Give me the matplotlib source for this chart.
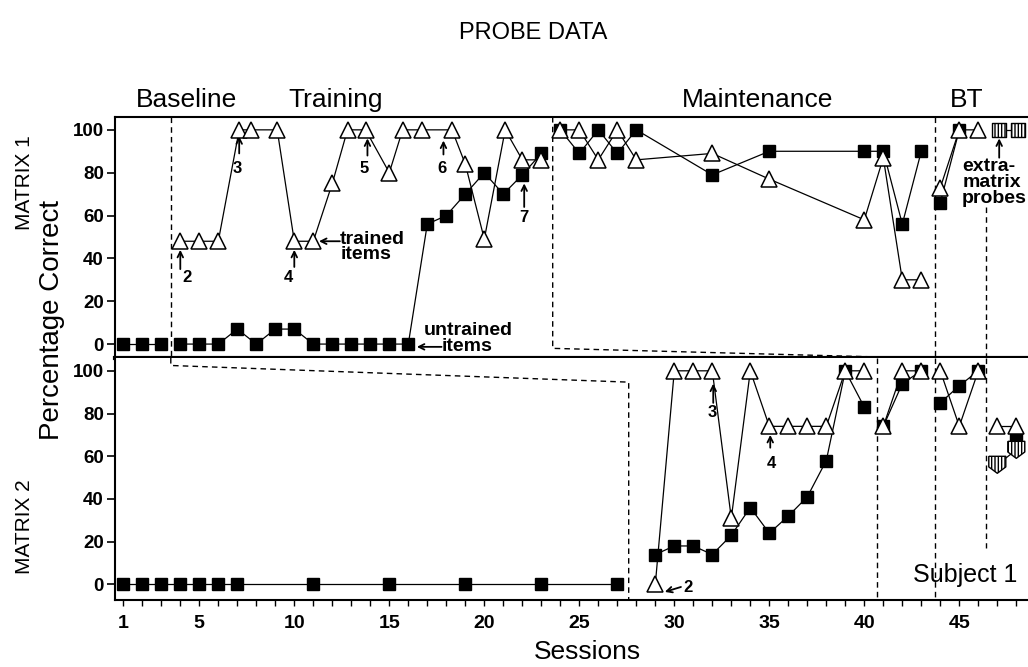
import matplotlib
matplotlib.use("Agg")
import matplotlib.pyplot as plt
from matplotlib.transforms import blended_transform_factory

plt.rcParams['font.family'] = ['Liberation Sans', 'DejaVu Sans']

# ---------------- MATRIX 1 data ----------------
m1_sq_base_x = [1, 2, 3]
m1_sq_base_y = [0, 0, 0]
m1_sq_train_x = [4, 5, 6, 7, 8, 9, 10, 11, 12, 13, 14, 15, 16, 17, 18, 19, 20, 21, 22, 23]
m1_sq_train_y = [0, 0, 0, 7, 0, 7, 7, 0, 0, 0, 0, 0, 0, 56, 60, 70, 80, 70, 79, 89]
m1_sq_maint_x = [24, 25, 26, 27, 28, 32, 35, 40, 41, 42, 43]
m1_sq_maint_y = [100, 89, 100, 89, 100, 79, 90, 90, 90, 56, 90]
m1_sq_bt_x = [44, 45]
m1_sq_bt_y = [66, 100]

m1_tri_train_x = [4, 5, 6, 7.1, 7.7, 9.1, 10, 11, 12, 12.8, 13.75, 15, 15.7, 16.7, 18.3, 19, 20, 21.1, 22, 23]
m1_tri_train_y = [48, 48, 48, 100, 100, 100, 48, 48, 75, 100, 100, 80, 100, 100, 100, 84, 49, 100, 86, 86]
m1_tri_maint_x = [24, 25, 26, 27, 28, 32, 35, 40, 41, 42, 43]
m1_tri_maint_y = [100, 100, 86, 100, 86, 89, 77, 58, 87, 30, 30]
m1_tri_bt_x = [44, 45, 46]
m1_tri_bt_y = [73, 100, 100]

m1_extra_x = [47.1, 48.1]
m1_extra_y = [100, 100]

# ---------------- MATRIX 2 data ----------------
m2_sq_base_x = [1, 2, 3, 4, 5, 6, 7, 11, 15, 19, 23, 27]
m2_sq_base_y = [0, 0, 0, 0, 0, 0, 0, 0, 0, 0, 0, 0]
m2_sq_train_x = [29, 30, 31, 32, 33, 34, 35, 36, 37, 38, 39, 40]
m2_sq_train_y = [14, 18, 18, 14, 23, 36, 24, 32, 41, 58, 100, 83]
m2_tri_train_x = [29, 30, 31, 32, 33, 34, 35, 36, 37, 38, 39, 40]
m2_tri_train_y = [0, 100, 100, 100, 31, 100, 74, 74, 74, 74, 100, 100]
m2_sq_maint_x = [41, 42, 43]
m2_sq_maint_y = [74, 94, 100]
m2_tri_maint_x = [41, 42, 43]
m2_tri_maint_y = [74, 100, 100]
m2_sq_bt_x = [44, 45, 46]
m2_sq_bt_y = [85, 93, 100]
m2_tri_bt_x = [44, 45, 46]
m2_tri_bt_y = [100, 74, 100]
m2_tri_extra_x = [47, 48]
m2_tri_extra_y = [74, 74]
m2_sq_extra_x = [48]
m2_sq_extra_y = [69]
m2_hatch_x = [47, 48]
m2_hatch_y = [56, 63]

# axis settings
yticks = [0, 20, 40, 60, 80, 100]
xtick_labels = {1: '1', 5: '5', 10: '10', 15: '15', 20: '20', 25: '25', 30: '30', 35: '35', 40: '40', 45: '45'}

W, H = 1028, 667
fig = plt.figure(figsize=(W / 100, H / 100), dpi=100)
left_px, top1, mid, bot2 = 115, 117, 358, 600
right_px = 1040
ax1 = fig.add_axes([left_px / W, (H - mid) / H, (right_px - left_px) / W, (mid - top1) / H])
ax2 = fig.add_axes([left_px / W, (H - bot2) / H, (right_px - left_px) / W, (bot2 - mid) / H])

px_per_s = 19.0
x0 = 1 + (left_px - 123.3) / px_per_s
x1 = 1 + (right_px - 123.3) / px_per_s
for ax in (ax1, ax2):
    ax.set_xlim(x0, x1)
ax1.set_ylim(-6.5, 106)
ax2.set_ylim(-7.3, 106)

LW = 0.9
SQ = dict(marker='s', ms=8.8, mfc='black', mec='black', color='black', lw=LW, zorder=4)
TR = dict(marker='^', ms=11, mfc='white', mec='black', mew=1.1, color='black', lw=LW, zorder=5)

# MATRIX 1
ax1.plot(m1_sq_base_x, m1_sq_base_y, **SQ)
ax1.plot(m1_sq_train_x, m1_sq_train_y, **SQ)
ax1.plot(m1_sq_maint_x, m1_sq_maint_y, **SQ)
ax1.plot(m1_sq_bt_x, m1_sq_bt_y, **SQ)
ax1.plot(m1_tri_train_x, m1_tri_train_y, **TR)
ax1.plot(m1_tri_maint_x, m1_tri_maint_y, **TR)
ax1.plot(m1_tri_bt_x, m1_tri_bt_y, **TR)
ax1.plot(m1_extra_x, m1_extra_y, color='black', lw=LW, zorder=5)
ax1.scatter(m1_extra_x, m1_extra_y, marker='s', s=95, facecolor='white', edgecolor='black',
            hatch='|||||', linewidth=1.0, zorder=6)

# MATRIX 2
ax2.plot(m2_sq_base_x, m2_sq_base_y, **SQ)
ax2.plot(m2_sq_train_x, m2_sq_train_y, **SQ)
ax2.plot(m2_tri_train_x, m2_tri_train_y, **TR)
ax2.plot(m2_sq_maint_x, m2_sq_maint_y, **SQ)
ax2.plot(m2_tri_maint_x, m2_tri_maint_y, **TR)
ax2.plot(m2_sq_bt_x, m2_sq_bt_y, **SQ)
ax2.plot(m2_tri_bt_x, m2_tri_bt_y, **TR)
ax2.plot(m2_tri_extra_x, m2_tri_extra_y, **TR)
ax2.plot(m2_sq_extra_x, m2_sq_extra_y, **SQ)
shield = [(-1, 1), (1, 1), (1, -0.25), (0, -1), (-1, -0.25), (-1, 1)]
ax2.plot(m2_hatch_x, m2_hatch_y, color='black', lw=LW, zorder=5)
ax2.scatter(m2_hatch_x, m2_hatch_y, marker=shield, s=150, facecolor='white', edgecolor='black',
            hatch='|||||', linewidth=1.0, zorder=6)

# phase lines
DL = dict(color='black', lw=1.0, ls=(0, (4, 3)), zorder=2)
ax1.plot([3.5, 3.5], [106, -6.5], **DL)
ax2.plot([3.5, 3.5, 27.6, 27.6], [106, 102.5, 94.7, -7.3], **DL)
ax1.plot([23.6, 23.6, 40.65], [106, -2, -6.0], **DL)
ax2.plot([40.65, 40.65], [106, -7.3], **DL)
ax1.plot([43.7, 43.7], [106, -6.5], **DL)
ax2.plot([43.7, 43.7], [106, -7.3], **DL)
ax1.plot([46.4, 46.4], [64, -6.5], **DL)
ax2.plot([46.4, 46.4], [106, 17], **DL)

# spines / ticks
for ax in (ax1, ax2):
    ax.spines['right'].set_visible(False)
    ax.spines['left'].set_linewidth(1.5)
    ax.set_yticks(yticks)
    ax.set_yticklabels([str(v) for v in yticks], fontsize=13.5, fontweight='bold')
    ax.tick_params(axis='y', direction='out', length=6, width=1.2, pad=2)
ax1.spines['top'].set_linewidth(1.5)
ax1.spines['bottom'].set_linewidth(3)
ax2.spines['top'].set_visible(False)
ax2.spines['bottom'].set_linewidth(1.5)
ax1.set_xticks([])
ax2.set_xticks(list(range(1, 49)))
ax2.set_xticklabels([xtick_labels.get(i, '') for i in range(1, 49)], fontsize=14, fontweight='bold')
ax2.tick_params(axis='x', direction='out', length=4, width=1.0, pad=7)

# annotations MATRIX 1
ARW = dict(arrowstyle='->', lw=1.3, color='black', mutation_scale=10, shrinkA=0, shrinkB=0)
NUM = dict(fontsize=12, fontweight='bold', ha='center', va='center')
ax1.text(4.35, 31, '2', **NUM)
ax1.annotate('', xy=(4, 44), xytext=(4, 35), arrowprops=ARW)
ax1.text(7.0, 82, '3', **NUM)
ax1.annotate('', xy=(7.1, 97), xytext=(7.1, 89), arrowprops=ARW)
ax1.text(9.7, 31, '4', **NUM)
ax1.annotate('', xy=(10, 44), xytext=(10, 36), arrowprops=ARW)
ax1.text(13.7, 82, '5', **NUM)
ax1.annotate('', xy=(13.85, 96), xytext=(13.85, 88), arrowprops=ARW)
ax1.text(17.76, 82, '6', **NUM)
ax1.annotate('', xy=(17.85, 95), xytext=(17.85, 88.5), arrowprops=ARW)
ax1.text(22.1, 59, '7', **NUM)
ax1.annotate('', xy=(22.1, 75), xytext=(22.1, 64), arrowprops=ARW)

TXT = dict(fontsize=14, fontweight='bold', ha='left', va='center')
ax1.text(12.4, 49, 'trained', **TXT)
ax1.text(12.45, 42, 'items', **TXT)
ax1.annotate('', xy=(11.3, 48), xytext=(12.4, 48), arrowprops=ARW)
ax1.text(16.8, 6.5, 'untrained', **TXT)
ax1.text(17.75, -1.3, 'items', **TXT)
ax1.annotate('', xy=(16.45, -1.3), xytext=(17.75, -1.3), arrowprops=ARW)
ax1.text(45.15, 75.5, 'extra-\nmatrix\nprobes', fontsize=14, fontweight='bold', ha='left', va='center',
         linespacing=0.9, zorder=7, bbox=dict(facecolor='white', edgecolor='none', pad=0))
ax1.annotate('', xy=(47.1, 96), xytext=(47.1, 87), arrowprops=ARW, zorder=8)

# annotations MATRIX 2
ax2.text(30.7, -1.3, '2', **NUM)
ax2.annotate('', xy=(29.5, -3.5), xytext=(30.35, -1.2), arrowprops=ARW)
ax2.text(32.0, 80.7, '3', **NUM)
ax2.annotate('', xy=(32.05, 94), xytext=(32.05, 85), arrowprops=ARW)
ax2.text(35.1, 56.5, '4', **NUM)
ax2.annotate('', xy=(35.05, 70), xytext=(35.05, 64), arrowprops=ARW)
ax2.text(45.3, 4.2, 'Subject 1', fontsize=18, ha='center', va='center')

# phase labels
tr = blended_transform_factory(ax1.transData, ax1.transAxes)
ph_y = (mid - 100) / (mid - top1)
for s, lab in [(4.3, 'Baseline'), (12.2, 'Training'), (34.4, 'Maintenance'), (45.4, 'BT')]:
    ax1.text(s, ph_y, lab, transform=tr, fontsize=19, ha='center', va='center')

fig.text(533 / W, 1 - 33 / H, 'PROBE DATA', fontsize=17, ha='center', va='center')
fig.text(587 / W, 1 - 652 / H, 'Sessions', fontsize=19, ha='center', va='center')
fig.text(25 / W, 1 - 183 / H, 'MATRIX 1', fontsize=15, rotation=90, ha='center', va='center')
fig.text(52 / W, 1 - 320 / H, 'Percentage Correct', fontsize=20, rotation=90, ha='center', va='center')
fig.text(25 / W, 1 - 527 / H, 'MATRIX 2', fontsize=15, rotation=90, ha='center', va='center')

fig.savefig('out.png', dpi=100)
